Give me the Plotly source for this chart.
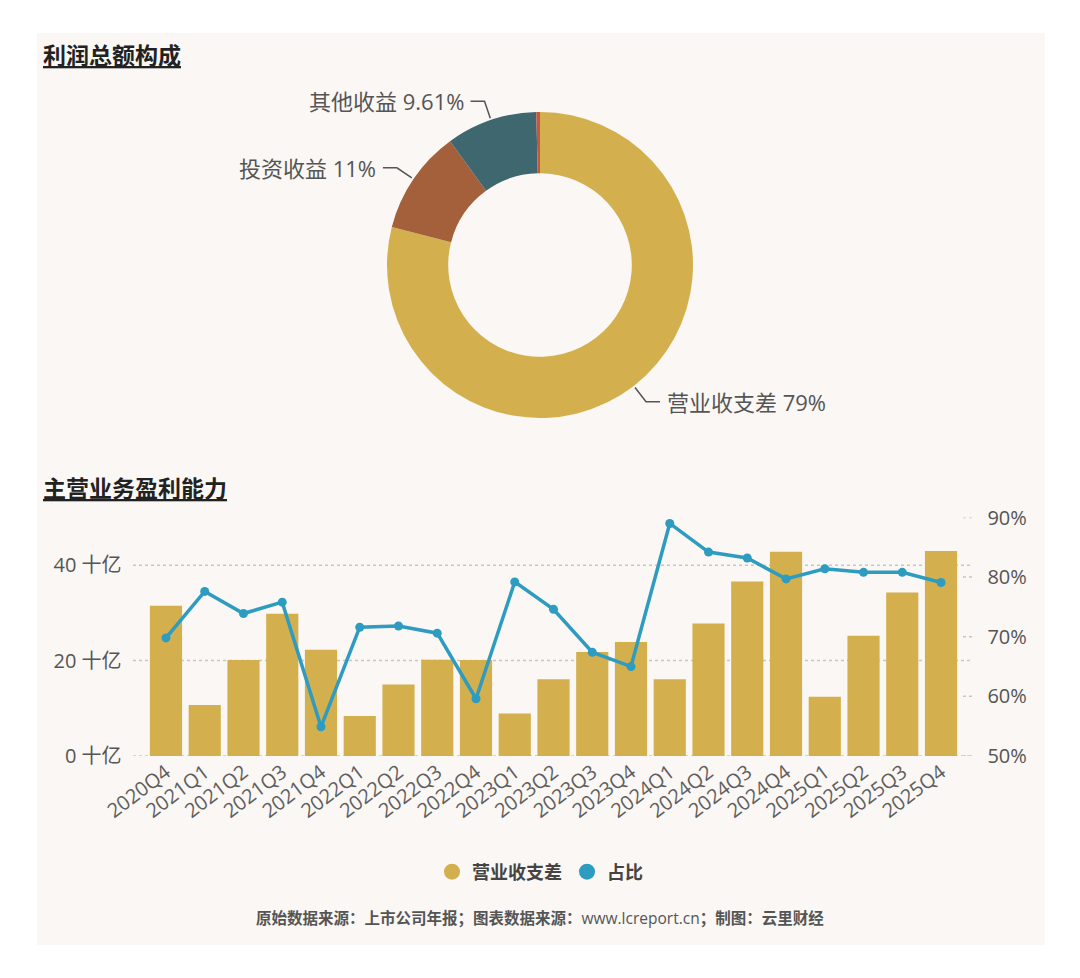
import math
import plotly.graph_objects as go

# ---------------- data ----------------
pie_labels = ["营业收支差", "投资收益", "其他收益", "其他"]
pie_values = [79.0, 11.0, 9.61, 0.39]
pie_colors = ["#D3B04D", "#A3603A", "#3F6770", "#C9553F"]
pie_show = [True, True, True, False]

quarters = ["2020Q4", "2021Q1", "2021Q2", "2021Q3", "2021Q4", "2022Q1", "2022Q2",
            "2022Q3", "2022Q4", "2023Q1", "2023Q2", "2023Q3", "2023Q4", "2024Q1",
            "2024Q2", "2024Q3", "2024Q4", "2025Q1", "2025Q2", "2025Q3", "2025Q4"]
# 营业收支差 (十亿)
margin_bn = [31.5, 10.7, 20.1, 29.8, 22.3, 8.4, 15.0, 20.2, 20.1, 8.9, 16.1,
             21.8, 23.9, 16.1, 27.8, 36.6, 42.8, 12.4, 25.2, 34.3, 43.0]
# 占比 (%)
share_pct = [69.8, 77.6, 73.9, 75.8, 54.9, 71.6, 71.8, 70.6, 59.6, 79.2, 74.6,
             67.4, 65.0, 89.0, 84.2, 83.2, 79.7, 81.4, 80.8, 80.8, 79.1]

left_ticks = [0, 20, 40]
right_ticks = [50, 60, 70, 80, 90]

W, H = 1080, 978
FONT = "Open Sans, Noto Sans CJK SC, sans-serif"
GOLD = "#D3B04D"
BLUE = "#2E9BC0"
TXT = "#555555"


def px(x):
    return x / W


def py(y):
    return 1 - y / H


fig = go.Figure()

# ---------------- 甜甜圈 ----------------
cx, cy, R = 540, 265, 153
fig.add_trace(go.Pie(
    labels=pie_labels, values=pie_values,
    marker=dict(colors=pie_colors, line=dict(width=0)),
    hole=0.6, sort=False, direction="clockwise", rotation=0,
    textinfo="none", showlegend=False,
    domain=dict(x=[px(cx - R), px(cx + R)], y=[py(cy + R), py(cy - R)]),
))

shapes = []
annotations = []

total = sum(pie_values)
start = 0.0
for lab, val, show in zip(pie_labels, pie_values, pie_show):
    mid = (start + val / 2) / total * 2 * math.pi
    start += val
    if not show:
        continue
    dx, dy = math.sin(mid), -math.cos(mid)
    x0, y0 = cx + (R + 2) * dx, cy + (R + 2) * dy
    x1, y1 = cx + (R + 20) * dx, cy + (R + 20) * dy
    side = 1 if dx >= 0 else -1
    x2 = x1 + side * 14
    shapes.append(dict(
        type="path", xref="paper", yref="paper",
        path=f"M {px(x0)},{py(y0)} L {px(x1)},{py(y1)} L {px(x2)},{py(y1)}",
        line=dict(color="#555555", width=1.5),
    ))
    annotations.append(dict(
        x=px(x2 + side * 5), y=py(y1), xref="paper", yref="paper",
        text=f"{lab} {val:g}%", showarrow=False,
        xanchor="left" if side > 0 else "right", yanchor="middle",
        font=dict(size=22, color=TXT, family=FONT),
    ))

# ---------------- 柱状 + 折线 ----------------
fig.add_trace(go.Bar(
    x=quarters, y=margin_bn, name="营业收支差",
    marker=dict(color=GOLD, line=dict(width=0)),
    xaxis="x", yaxis="y", showlegend=False,
))
fig.add_trace(go.Scatter(
    x=quarters, y=share_pct, name="占比", mode="lines+markers",
    line=dict(color=BLUE, width=3.5), marker=dict(color=BLUE, size=9),
    xaxis="x", yaxis="y2", showlegend=False,
))

# 图例（圆点）
for name, col in [("营业收支差", GOLD), ("占比", BLUE)]:
    fig.add_trace(go.Scatter(
        x=[None], y=[None], mode="markers", name=f"<b>{name}</b>",
        marker=dict(color=col, size=16, symbol="circle"),
        xaxis="x", yaxis="y",
    ))

# 背景卡片
shapes.insert(0, dict(
    type="rect", xref="paper", yref="paper", layer="below",
    x0=px(37), x1=px(1045), y0=py(945), y1=py(33),
    fillcolor="#FAF7F4", line=dict(width=0),
))

# 网格线（点线）
for t in left_ticks:
    shapes.append(dict(
        type="line", xref="paper", yref="y", layer="below",
        x0=px(133), x1=px(973), y0=t, y1=t,
        line=dict(color="#C9C5C1", width=1.5, dash="dot"),
    ))
for t in right_ticks:
    shapes.append(dict(
        type="line", xref="paper", yref="y2", layer="below",
        x0=px(963), x1=px(973), y0=t, y1=t,
        line=dict(color="#C9C5C1", width=1.5, dash="dot"),
    ))

# 标题
for txt, y in [("利润总额构成", 55), ("主营业务盈利能力", 488)]:
    annotations.append(dict(
        x=px(41), y=py(y), xref="paper", yref="paper",
        text=f"<b><u>{txt}</u></b>", showarrow=False,
        xanchor="left", yanchor="middle",
        font=dict(size=23, color="#222222", family=FONT),
    ))

# 来源
annotations.append(dict(
    x=px(540), y=py(918), xref="paper", yref="paper",
    text="<b>原始数据来源：上市公司年报；图表数据来源：</b>www.lcreport.cn<b>；制图：云里财经</b>",
    showarrow=False, xanchor="center", yanchor="middle",
    font=dict(size=15.5, color=TXT, family=FONT),
))

fig.update_layout(
    width=W, height=H,
    margin=dict(l=0, r=0, t=0, b=0),
    paper_bgcolor="white", plot_bgcolor="rgba(0,0,0,0)",
    font=dict(family=FONT, color=TXT),
    bargap=0.17,
    xaxis=dict(
        domain=[px(146.6), px(960.4)], anchor="y",
        range=[-0.5, len(quarters) - 0.5], autorange=False,
        tickangle=-37, tickfont=dict(size=20, color="#5E5E5E"),
        showgrid=False, showline=False, zeroline=False, ticks="",
        automargin=False,
    ),
    yaxis=dict(
        domain=[py(756), py(517.5)], range=[0, 50],
        tickmode="array", tickvals=left_ticks,
        ticktext=[f"{t} 十亿" for t in left_ticks],
        tickfont=dict(size=20, color=TXT),
        showgrid=False, zeroline=False, showline=False, ticks="",
        ticklabelstandoff=24, automargin=False,
    ),
    yaxis2=dict(
        overlaying="y", side="right", anchor="x", range=[50, 90],
        tickmode="array", tickvals=right_ticks,
        ticktext=[f"{t}%" for t in right_ticks],
        tickfont=dict(size=20, color=TXT),
        showgrid=False, zeroline=False, showline=False, ticks="",
        ticklabelstandoff=26, automargin=False,
    ),
    legend=dict(
        orientation="h", x=px(540), xanchor="center", y=py(872), yanchor="middle",
        font=dict(size=18, color="#444444", family=FONT),
        bgcolor="rgba(0,0,0,0)", itemwidth=30, traceorder="normal",
    ),
    shapes=shapes,
    annotations=annotations,
)

fig.write_html("out.html", config={"displayModeBar": False},
               post_script="document.body.style.margin='0';")
